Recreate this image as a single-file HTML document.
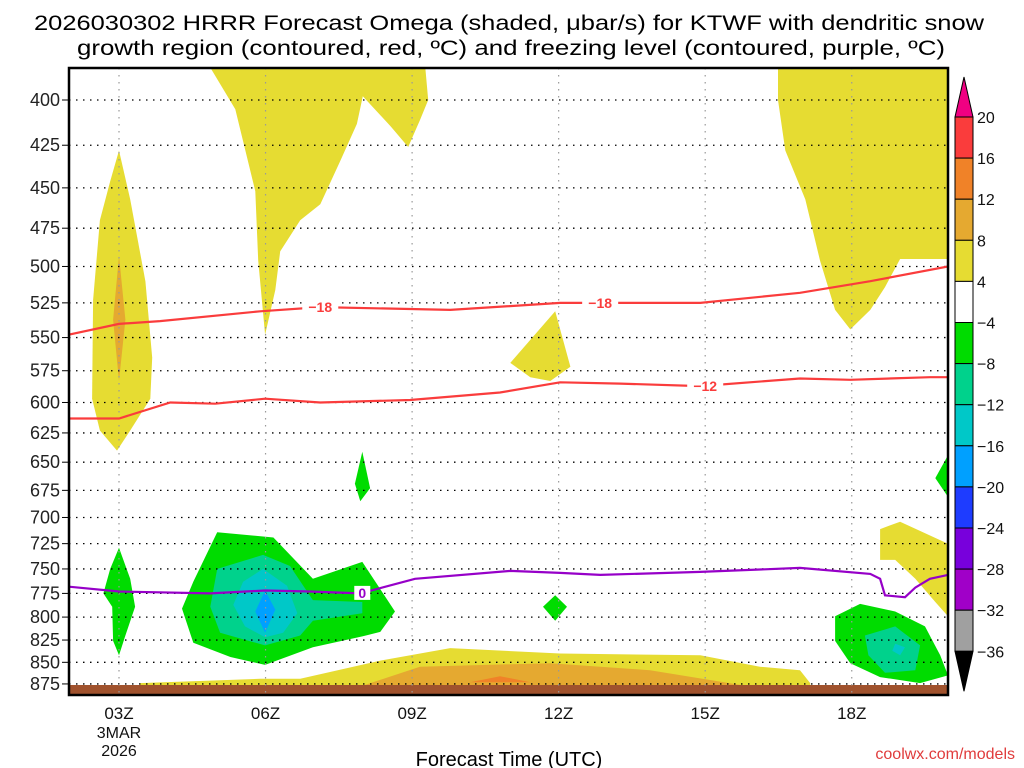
<!DOCTYPE html>
<html><head><meta charset="utf-8"><style>
body{margin:0;background:#fff;}
svg{display:block;font-family:"Liberation Sans","DejaVu Sans",sans-serif;}
</style></head><body>
<svg id="chart" width="1024" height="768" viewBox="0 0 1024 768">
<rect width="1024" height="768" fill="#fff"/>
<text x="509" y="30" font-size="21" text-anchor="middle" textLength="950" lengthAdjust="spacingAndGlyphs">2026030302 HRRR Forecast Omega (shaded, μbar/s) for KTWF with dendritic snow</text>
<text x="511" y="55" font-size="21" text-anchor="middle" textLength="868" lengthAdjust="spacingAndGlyphs">growth region (contoured, red, ºC) and freezing level (contoured, purple, ºC)</text>
<g id="shades"></g>
<g id="grid"></g>
<g id="lines"></g>
<g id="axes"></g>
<g id="cbar"></g>
<text x="509" y="766" font-size="20" text-anchor="middle">Forecast Time (UTC)</text>
<text x="1015" y="759" font-size="16" text-anchor="end" fill="#e03c3c">coolwx.com/models</text>
</svg>
<script>
const hourTicks=[3,6,9,12,15,18];
const hourLabels=["03Z","06Z","09Z","12Z","15Z","18Z"];
const pressureTicks=[400,425,450,475,500,525,550,575,600,625,650,675,700,725,750,775,800,825,850,875];
const cbarLevels=["20","16","12","8","4","−4","−8","−12","−16","−20","−24","−28","−32","−36"];
const cbarColors=["#fa3c3c","#f08228","#e5a930","#e6dc32","#ffffff","#00dc00","#00d28c","#00c8c8","#00a0ff","#1e3cff","#7800dc","#a000c8","#a0a0a0"];
const yellowA=[[3.0,428],[3.23,457],[3.54,510],[3.68,565],[3.64,597],[3.23,623],[2.96,640],[2.61,623],[2.45,597],[2.47,523],[2.61,470],[2.82,446]];
const orangeA=[[3.0,493],[3.13,537],[3.0,583],[2.88,537]];
const yellowB=[[4.87,383],[5.38,405],[5.79,452],[5.85,496],[5.99,548],[6.20,516],[6.30,490],[6.71,470],[7.12,460],[7.53,434],[7.87,413],[7.99,398],[8.55,414],[8.92,426],[9.16,411],[9.33,400],[9.27,383]];
const yellowD=[[11.01,569],[11.93,531],[12.24,572],[11.83,583],[11.42,580]];
const yellowE=[[16.49,383],[19.97,383],[19.97,495],[18.99,495],[18.68,514],[18.38,530],[17.97,544],[17.66,530],[17.35,496],[17.05,457],[16.64,428],[16.49,400]];
const yellowF=[[18.58,711],[18.99,704],[19.97,725],[19.97,799],[19.71,784],[19.30,760],[18.89,741],[18.58,741]];
const yellowG=[[3.43,874],[5.89,869],[6.71,869],[8.35,848],[9.78,834],[12.03,840],[14.90,842],[16.12,855],[16.94,859],[17.15,874],[17.15,878],[3.43,878]];
const orangeG=[[7.94,878],[9.16,855],[11.83,851],[13.87,859],[15.92,878]];
const redG=[[10.19,873],[10.80,866],[11.42,873]];
const greenA=[[3.0,729],[3.23,760],[3.33,789],[3.13,820],[3.0,842],[2.88,826],[2.86,789],[2.68,775],[2.82,750]];
const greenB=[[5.01,714],[6.16,719],[6.97,760],[7.98,743],[8.65,794],[8.35,816],[7.98,821],[6.97,833],[5.99,853],[5.28,844],[4.52,828],[4.29,791],[4.52,763]];
const tealB=[[5.95,736],[6.50,747],[6.97,782],[7.98,784],[7.98,796],[6.97,804],[6.71,820],[5.99,831],[5.07,817],[4.87,789],[5.01,750]];
const cyanB=[[5.95,750],[6.44,767],[6.65,796],[6.36,817],[5.99,822],[5.58,810],[5.34,787],[5.54,763]];
const blueB=[[5.99,772],[6.20,792],[5.99,817],[5.79,794]];
const greenC=[[7.98,641],[8.14,673],[7.94,685],[7.83,669]];
const greenD=[[11.93,777],[12.17,789],[11.93,804],[11.68,789]];
const greenE=[[19.97,644],[19.71,664],[19.97,681]];
const greenF=[[17.66,799],[18.17,786],[18.89,794],[19.50,810],[19.81,842],[19.97,865],[19.40,874],[18.58,867],[17.97,851],[17.66,826]];
const tealF=[[18.27,820],[18.89,810],[19.40,831],[19.30,859],[18.68,862],[18.34,842]];
const cyanF=[[18.89,829],[19.09,833],[18.99,842],[18.83,837]];
const minus18=[[1.96,548],[3.0,540],[3.84,538],[5.89,531],[7.12,528],[9.78,530],[12.03,525],[14.90,525],[16.94,518],[18.38,510],[19.97,500]];
const minus18Labels=[7.12,12.85];
const minus12=[[1.96,613],[3.0,613],[4.05,600],[4.97,601],[5.99,597],[7.12,600],[8.96,598],[10.80,592],[12.03,584],[13.26,585],[14.90,587],[16.94,581],[17.97,582],[19.60,580],[19.97,580]];
const minus12Labels=[15.0];
const freezing=[[1.96,768],[3.0,773],[4.87,775],[5.99,772],[6.91,773],[7.94,775],[9.06,760],[11.01,752],[12.03,754],[12.85,756],[14.90,753],[16.94,749],[18.38,755],[18.58,760],[18.68,777],[19.09,779],[19.30,769],[19.60,760],[19.97,756]];
const freezingLabels=[7.98];

const NS="http://www.w3.org/2000/svg";
const L=69,R=948,T=68,B=695;
function xs(h){return 119+(h-3)*48.85;}
function ys(p){return 100+746*Math.log(p/400);}
function mk(tag,attrs,parent){const e=document.createElementNS(NS,tag);for(const k in attrs)e.setAttribute(k,attrs[k]);parent.appendChild(e);return e;}
function pts(a){return a.map(d=>xs(d[0]).toFixed(1)+","+ys(d[1]).toFixed(1)).join(" ");}
const shades=document.getElementById('shades');
const clip=mk('clipPath',{id:'pc'},document.getElementById('chart'));
mk('rect',{x:L,y:T,width:R-L,height:B-T},clip);
shades.setAttribute('clip-path','url(#pc)');
const polys=[[yellowA,"#e6dc32","yellow-region-03z"],[orangeA,"#e5a930","orange-region-03z"],[yellowB,"#e6dc32","yellow-region-06z"],[yellowD,"#e6dc32","yellow-region-12z"],[yellowE,"#e6dc32","yellow-region-18z-upper"],[yellowF,"#e6dc32","yellow-region-19z-lower"],[yellowG,"#e6dc32","yellow-band-surface"],[orangeG,"#e5a930","orange-band-surface"],[redG,"#f08228","red-band-surface"],
[greenA,"#00dc00","green-region-03z"],[greenB,"#00dc00","green-region-06z"],[tealB,"#00d28c","teal-region-06z"],[cyanB,"#00c8c8","cyan-region-06z"],[blueB,"#00a0ff","blue-region-06z"],[greenC,"#00dc00","green-region-08z"],[greenD,"#00dc00","green-region-12z"],[greenE,"#00dc00","green-region-20z"],[greenF,"#00dc00","green-region-19z"],[tealF,"#00d28c","teal-region-19z"],[cyanF,"#00c8c8","cyan-region-19z"]];
polys.forEach(p=>{
 const e=mk('polygon',{points:pts(p[0]),fill:p[1]},shades);
 
 
});
const ground=mk('rect',{x:L,y:685,width:R-L,height:B-685,fill:'#a0522d'},shades);



const grid=document.getElementById('grid');
pressureTicks.forEach(p=>{
 const y=ys(p);
 const g=mk('line',{x1:L,x2:R,y1:y,y2:y,stroke:'#000','stroke-width':1.3,'stroke-dasharray':'1.5,5.5'},grid);
 
 
});
hourTicks.forEach(h=>{
 const x=xs(h);
 const g=mk('line',{x1:x,x2:x,y1:T,y2:B,stroke:'#999','stroke-width':1.2,'stroke-dasharray':'1.5,5.5'},grid);
 
 
});

const lines=document.getElementById('lines');
lines.setAttribute('clip-path','url(#pc)');
function drawLine(data,color,labs,txt,name){
 const e=mk('polyline',{points:pts(data),fill:'none',stroke:color,'stroke-width':2.2},lines);
 
 
 labs.forEach(h=>{
  let p=data[0][1];
  for(let i=1;i<data.length;i++){if(data[i][0]>=h){const a=data[i-1],b=data[i];p=a[1]+(b[1]-a[1])*(h-a[0])/(b[0]-a[0]);break;}}
  const x=xs(h),y=ys(p);
  mk('rect',{x:x-(txt.length*5+3),y:y-7,width:txt.length*10+6,height:14,fill:'#fff'},lines);
  const t=mk('text',{x:x,y:y+5,'font-size':14,'font-weight':'bold',fill:color,'text-anchor':'middle'},lines);
  t.textContent=txt;
  
  
 });
}
drawLine(minus18,'#fa3c3c',minus18Labels,'−18','isotherm-minus18');
drawLine(minus12,'#fa3c3c',minus12Labels,'−12','isotherm-minus12');
drawLine(freezing,'#9600c8',freezingLabels,'0','freezing-level');

const axes=document.getElementById('axes');
mk('rect',{x:L,y:T,width:R-L,height:B-T,fill:'none',stroke:'#000','stroke-width':2.5},axes);
pressureTicks.forEach(p=>{
 const y=ys(p);
 mk('line',{x1:L-7,x2:L,y1:y,y2:y,stroke:'#000','stroke-width':1},axes);
 const t=mk('text',{x:L-9,y:y+6,'font-size':18,'text-anchor':'end',fill:'#222'},axes);
 t.textContent=p;
 
 
});
hourTicks.forEach((h,i)=>{
 const x=xs(h);
 const t=mk('text',{x:x,y:719,'font-size':17,'text-anchor':'middle',fill:'#111'},axes);
 t.textContent=hourLabels[i];
 
 
});
const d1=mk('text',{x:xs(3),y:738,'font-size':16,'text-anchor':'middle',fill:'#111'},axes);d1.textContent='3MAR';


const d2=mk('text',{x:xs(3),y:756,'font-size':16,'text-anchor':'middle',fill:'#111'},axes);d2.textContent='2026';



const cb=document.getElementById('cbar');
const cx=955,cw=18,c0=117,ch=41.1;
mk('polygon',{points:`${cx},${c0} ${cx+cw},${c0} ${cx+cw/2},${c0-40}`,fill:'#f00082',stroke:'#000','stroke-width':1},cb);
cbarColors.forEach((c,i)=>{
 const r=mk('rect',{x:cx,y:c0+i*ch,width:cw,height:ch,fill:c,stroke:'#000','stroke-width':1},cb);
 
 
});
const cend=c0+cbarColors.length*ch;
mk('polygon',{points:`${cx},${cend} ${cx+cw},${cend} ${cx+cw/2},${cend+40}`,fill:'#000',stroke:'#000','stroke-width':1},cb);
cbarLevels.forEach((s,i)=>{
 const t=mk('text',{x:cx+cw+4,y:c0+i*ch+6,'font-size':16,fill:'#111'},cb);
 t.textContent=s;
 
 
});
</script>
</body></html>
